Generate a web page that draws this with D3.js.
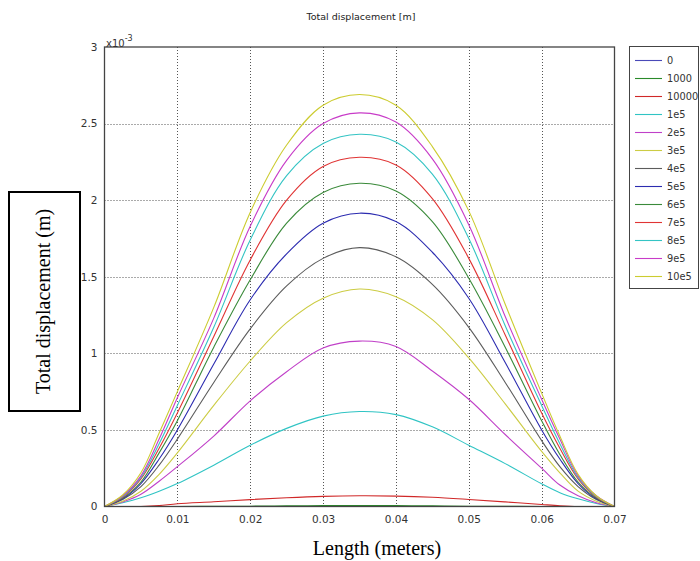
<!DOCTYPE html>
<html>
<head>
<meta charset="utf-8">
<script src="https://cdn.jsdelivr.net/npm/d3@7"></script>
<style>
    body { margin: 0; background: #fff; }
    svg { display: block; }
</style>
</head>
<body>
<div id="chart"></div>
<script>
// positions along the beam (m)
var lengthPos = [0, 0.0025, 0.005, 0.0075, 0.01, 0.015, 0.02, 0.025, 0.03, 0.035, 0.04, 0.045, 0.05, 0.055, 0.06, 0.0625, 0.065, 0.0675, 0.07];

// total displacement, in units of 1e-3 m
var disp0     = [0, 0, 0, 0, 0, 0, 0, 0, 0, 0, 0, 0, 0, 0, 0, 0, 0, 0, 0];
var disp1000  = [0, 0, 0, 0, 0, 0.001, 0.002, 0.004, 0.006, 0.007, 0.006, 0.004, 0.002, 0.001, 0, 0, 0, 0, 0];
var disp10000 = [0, 0, 0, 0.006, 0.018, 0.031, 0.045, 0.057, 0.066, 0.07, 0.068, 0.06, 0.046, 0.03, 0.013, 0.005, 0, 0, 0];
var disp1e5   = [0, 0.024, 0.057, 0.10, 0.15, 0.27, 0.40, 0.51, 0.59, 0.62, 0.60, 0.52, 0.40, 0.28, 0.148, 0.09, 0.05, 0.02, 0];
var disp2e5   = [0, 0.03, 0.08, 0.165, 0.26, 0.46, 0.69, 0.88, 1.035, 1.08, 1.045, 0.885, 0.70, 0.47, 0.25, 0.14, 0.07, 0.025, 0];
var disp3e5   = [0, 0.035, 0.10, 0.21, 0.35, 0.66, 0.95, 1.20, 1.36, 1.42, 1.37, 1.22, 0.97, 0.67, 0.36, 0.22, 0.10, 0.035, 0];
var disp4e5   = [0, 0.045, 0.13, 0.27, 0.44, 0.81, 1.16, 1.44, 1.62, 1.69, 1.63, 1.45, 1.17, 0.81, 0.43, 0.26, 0.13, 0.045, 0];
var disp5e5   = [0, 0.05, 0.15, 0.31, 0.50, 0.93, 1.35, 1.65, 1.85, 1.915, 1.86, 1.66, 1.36, 0.94, 0.50, 0.31, 0.15, 0.05, 0];
var disp6e5   = [0, 0.055, 0.16, 0.35, 0.56, 1.04, 1.48, 1.85, 2.05, 2.11, 2.06, 1.86, 1.49, 1.04, 0.56, 0.34, 0.16, 0.055, 0];
var disp7e5   = [0, 0.06, 0.18, 0.38, 0.61, 1.11, 1.61, 2.00, 2.22, 2.28, 2.23, 2.01, 1.62, 1.12, 0.61, 0.38, 0.18, 0.06, 0];
var disp8e5   = [0, 0.065, 0.19, 0.41, 0.66, 1.17, 1.74, 2.16, 2.37, 2.43, 2.38, 2.17, 1.75, 1.18, 0.66, 0.41, 0.19, 0.065, 0];
var disp9e5   = [0, 0.07, 0.20, 0.44, 0.71, 1.23, 1.83, 2.26, 2.50, 2.57, 2.51, 2.27, 1.84, 1.24, 0.70, 0.44, 0.20, 0.07, 0];
var disp10e5  = [0, 0.075, 0.22, 0.48, 0.75, 1.30, 1.92, 2.36, 2.62, 2.69, 2.62, 2.35, 1.93, 1.32, 0.74, 0.46, 0.21, 0.07, 0];

var seriesNames = ["0", "1000", "10000", "1e5", "2e5", "3e5", "4e5", "5e5", "6e5", "7e5", "8e5", "9e5", "10e5"];
var seriesValues = [disp0, disp1000, disp10000, disp1e5, disp2e5, disp3e5, disp4e5, disp5e5, disp6e5, disp7e5, disp8e5, disp9e5, disp10e5];
var seriesColors = ["#4a4ab8", "#2a8a2a", "#d02828", "#30c4c4", "#c040c8", "#cccc44", "#5c5c5c", "#2c2cb0", "#3a8a3a", "#e03434", "#34c4c4", "#c83cc8", "#cccc30"];

var xTicks = [0, 0.01, 0.02, 0.03, 0.04, 0.05, 0.06, 0.07];
var yTicks = [0, 0.5, 1, 1.5, 2, 2.5, 3];

var width = 700,
    height = 561;
var plot = {left: 104.5, right: 614.5, top: 47, bottom: 506.5};
var tickFont = "DejaVu Sans, Verdana, sans-serif";

var svg = d3.select("#chart").append("svg")
            .attr("width", width)
            .attr("height", height);

var x = d3.scaleLinear().domain([0, 0.07]).range([plot.left, plot.right]);
var y = d3.scaleLinear().domain([0, 3]).range([plot.bottom, plot.top]);

// title
svg.append("text")
    .attr("x", 361)
    .attr("y", 20)
    .attr("text-anchor", "middle")
    .attr("font-family", tickFont)
    .attr("font-size", 9.5)
    .attr("fill", "#222")
    .text("Total displacement [m]");

// dotted grid
var grid = svg.append("g").attr("class", "grid");
grid.selectAll(".vgrid")
    .data(xTicks.slice(1, -1))
    .enter().append("line")
    .attr("x1", function(d) { return Math.round(x(d)) + 0.5; })
    .attr("x2", function(d) { return Math.round(x(d)) + 0.5; })
    .attr("y1", plot.top)
    .attr("y2", plot.bottom)
    .attr("stroke", "#555")
    .attr("stroke-dasharray", "1,2");
grid.selectAll(".hgrid")
    .data(yTicks.slice(1, -1))
    .enter().append("line")
    .attr("y1", function(d) { return Math.round(y(d)) + 0.5; })
    .attr("y2", function(d) { return Math.round(y(d)) + 0.5; })
    .attr("x1", plot.left)
    .attr("x2", plot.right)
    .attr("stroke", "#555")
    .attr("stroke-dasharray", "1,2");

// curves
var line = d3.line()
    .x(function(d) { return x(d[0]); })
    .y(function(d) { return y(d[1]); })
    .curve(d3.curveCatmullRom.alpha(0.5));

var curves = svg.append("g").attr("class", "curves");
seriesValues.forEach(function(vals, i) {
    var pts = lengthPos.map(function(p, j) { return [p, vals[j]]; });
    curves.append("path")
        .datum(pts)
        .attr("d", line)
        .attr("fill", "none")
        .attr("stroke", seriesColors[i])
        .attr("stroke-width", 1.1);
});

// axes
var xAxis = d3.axisBottom(x).tickValues(xTicks).tickSize(0).tickPadding(9)
    .tickFormat(function(d) { return d === 0 ? "0" : d3.format(".2f")(d); });
var yAxis = d3.axisLeft(y).tickValues(yTicks).tickSize(0).tickPadding(7)
    .tickFormat(function(d) { return d3.format("~g")(d); });

svg.append("g")
    .attr("transform", "translate(0," + plot.bottom + ")")
    .call(xAxis)
    .call(function(g) { g.select(".domain").remove(); })
    .selectAll("text")
    .attr("font-family", tickFont)
    .attr("font-size", 10.5)
    .attr("fill", "#333");

svg.append("g")
    .attr("transform", "translate(" + plot.left + ",0)")
    .call(yAxis)
    .call(function(g) { g.select(".domain").remove(); })
    .selectAll("text")
    .attr("font-family", tickFont)
    .attr("font-size", 10.5)
    .attr("fill", "#333");

// frame
svg.append("rect")
    .attr("x", plot.left)
    .attr("y", plot.top)
    .attr("width", plot.right - plot.left)
    .attr("height", plot.bottom - plot.top)
    .attr("fill", "none")
    .attr("stroke", "#444")
    .attr("stroke-width", 1.3);

// exponent
var expo = svg.append("text")
    .attr("x", 106)
    .attr("y", 47)
    .attr("font-family", tickFont)
    .attr("font-size", 10)
    .attr("fill", "#333");
expo.append("tspan").text("x10");
expo.append("tspan").attr("dy", -6).attr("font-size", 8).text("-3");

// legend
var legend = svg.append("g").attr("class", "legend");
legend.append("rect")
    .attr("x", 629.5)
    .attr("y", 46.5)
    .attr("width", 69)
    .attr("height", 242)
    .attr("fill", "#fff")
    .attr("stroke", "#444");
var item = legend.selectAll(".item")
    .data(seriesNames)
    .enter().append("g")
    .attr("class", "item")
    .attr("transform", function(d, i) { return "translate(0," + (60.5 + i * 18) + ")"; });
item.append("line")
    .attr("x1", 635)
    .attr("x2", 662)
    .attr("stroke", function(d, i) { return seriesColors[i]; })
    .attr("stroke-width", 1.1);
item.append("text")
    .attr("x", 667)
    .attr("dy", "0.35em")
    .attr("font-family", tickFont)
    .attr("font-size", 9.8)
    .attr("fill", "#333")
    .text(function(d) { return d; });

// boxed y label
svg.append("rect")
    .attr("x", 9)
    .attr("y", 192)
    .attr("width", 71)
    .attr("height", 219)
    .attr("fill", "none")
    .attr("stroke", "#000")
    .attr("stroke-width", 2);
svg.append("text")
    .attr("transform", "translate(50,301.5) rotate(-90)")
    .attr("text-anchor", "middle")
    .attr("font-family", "Liberation Serif, Times New Roman, serif")
    .attr("font-size", 20)
    .attr("fill", "#000")
    .text("Total displacement (m)");

svg.append("text")
    .attr("x", 377)
    .attr("y", 555)
    .attr("text-anchor", "middle")
    .attr("font-family", "Liberation Serif, Times New Roman, serif")
    .attr("font-size", 20)
    .attr("fill", "#000")
    .text("Length (meters)");
</script>
</body>
</html>
